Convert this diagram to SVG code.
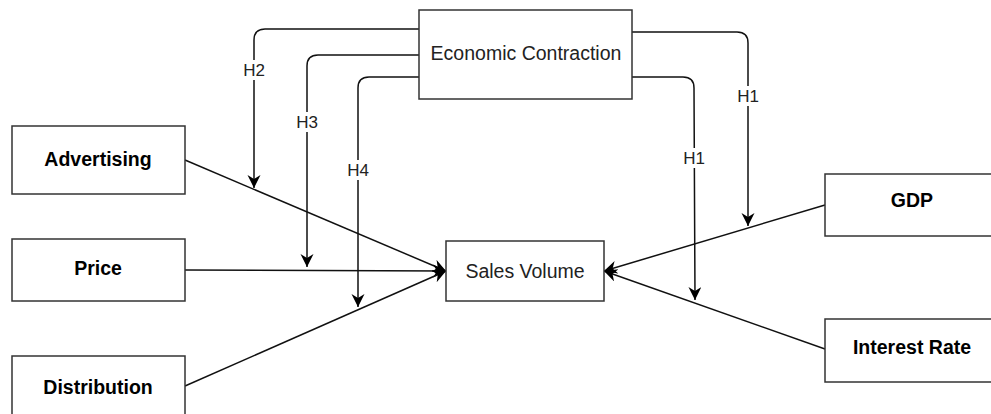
<svg xmlns="http://www.w3.org/2000/svg" width="991" height="414" viewBox="0 0 991 414">
<defs>
<marker id="arr" markerUnits="userSpaceOnUse" markerWidth="14" markerHeight="14" refX="13" refY="6.5" orient="auto">
<path d="M0,0 L13,6.5 L0,13 L4,6.5 Z" fill="#000"/>
</marker>
<style>
.box{fill:#fff;stroke:#333;stroke-width:1.5}
.b{font-family:"Liberation Sans",Arial,sans-serif;font-weight:bold;font-size:19.5px;fill:#000;text-anchor:middle}
.r{font-family:"Liberation Sans",Arial,sans-serif;font-size:19.5px;fill:#222;text-anchor:middle}
.h{font-family:"Liberation Sans",Arial,sans-serif;font-size:17px;fill:#222;text-anchor:middle}
.ln{fill:none;stroke:#111;stroke-width:1.5}
.lb{fill:#fff}
</style>
</defs>
<rect width="991" height="414" fill="#fff"/>
<g id="connectors">
<path class="ln" d="M185,160 L446,271" marker-end="url(#arr)"/>
<path class="ln" d="M185,270 L446,271" marker-end="url(#arr)"/>
<path class="ln" d="M185,386 L446,271" marker-end="url(#arr)"/>
<path class="ln" d="M825,205 L604,271" marker-end="url(#arr)"/>
<path class="ln" d="M825,349 L604,271" marker-end="url(#arr)"/>
<path class="ln" d="M419,29 L265,29 Q254,29 254,40 L254,188" marker-end="url(#arr)"/>
<path class="ln" d="M419,55 L318,55 Q307,55 307,66 L307,267" marker-end="url(#arr)"/>
<path class="ln" d="M419,77 L369,77 Q358,77 358,88 L358,307" marker-end="url(#arr)"/>
<path class="ln" d="M632,32 L737,32 Q748,32 748,43 L748,226" marker-end="url(#arr)"/>
<path class="ln" d="M632,77 L683,77 Q694,77 694,88 L695,300" marker-end="url(#arr)"/>
<rect class="lb" x="242" y="60" width="24" height="20"/>
<text class="h" x="254" y="76">H2</text>
<rect class="lb" x="295" y="112" width="24" height="20"/>
<text class="h" x="307" y="128">H3</text>
<rect class="lb" x="346" y="160" width="24" height="20"/>
<text class="h" x="358" y="176">H4</text>
<rect class="lb" x="736" y="86" width="24" height="20"/>
<text class="h" x="748" y="102">H1</text>
<rect class="lb" x="682" y="148" width="24" height="20"/>
<text class="h" x="694" y="164">H1</text>
</g>
<g id="economic-contraction">
<rect class="box" x="419" y="10" width="213" height="89"/>
<text class="r" x="526" y="60">Economic Contraction</text>
</g>
<g id="sales-volume">
<rect class="box" x="446" y="241" width="158" height="60"/>
<text class="r" x="525" y="278">Sales Volume</text>
</g>
<g id="advertising">
<rect class="box" x="12" y="126" width="173" height="68"/>
<text class="b" x="98" y="166">Advertising</text>
</g>
<g id="price">
<rect class="box" x="12" y="239" width="173" height="62"/>
<text class="b" x="98" y="275">Price</text>
</g>
<g id="distribution">
<rect class="box" x="12" y="356" width="173" height="64"/>
<text class="b" x="98" y="394">Distribution</text>
</g>
<g id="gdp">
<rect class="box" x="825" y="174" width="175" height="62"/>
<text class="b" x="912" y="207">GDP</text>
</g>
<g id="interest-rate">
<rect class="box" x="825" y="319" width="175" height="63"/>
<text class="b" x="912" y="354">Interest Rate</text>
</g>
</svg>
